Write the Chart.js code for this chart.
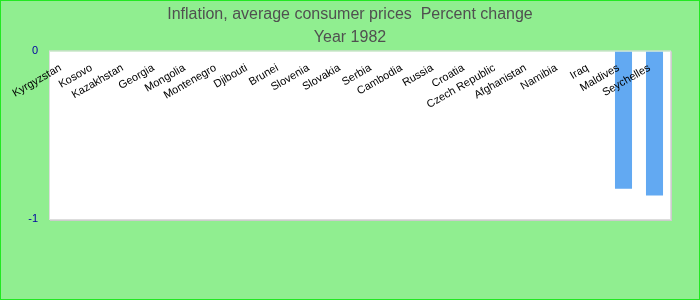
<!DOCTYPE html>
<html>
<head>
<meta charset="utf-8">
<script src="https://cdn.jsdelivr.net/npm/chart.js@4"></script>
<style>
  body { margin: 0; }
  #chart {
    display: block;
    background: #90ee90;
    outline: 1px solid #22e822;
    outline-offset: -1px;
  }
</style>
</head>
<body>
<canvas id="chart" width="700" height="300"></canvas>
<script>
// Chart data
const countries = ['Kyrgyzstan', 'Kosovo', 'Kazakhstan', 'Georgia', 'Mongolia', 'Montenegro',
  'Djibouti', 'Brunei', 'Slovenia', 'Slovakia', 'Serbia', 'Cambodia', 'Russia', 'Croatia',
  'Czech Republic', 'Afghanistan', 'Namibia', 'Iraq', 'Maldives', 'Seychelles'];
const inflation = [null, null, null, null, null, null, null, null, null, null,
  null, null, null, null, null, null, null, null, -0.82, -0.86];
const yTicks = [-1, 0];
const titleText = 'Inflation, average consumer prices  Percent change';
const subtitleText = 'Year 1982';

const fontFamily = "Arial, 'Liberation Sans', sans-serif";

// White plot area with a light grey frame
const plotFrame = {
  id: 'plotFrame',
  beforeDraw(chart) {
    const { ctx, chartArea: a } = chart;
    ctx.save();
    ctx.fillStyle = '#ffffff';
    ctx.fillRect(a.left, a.top, a.right - a.left, a.bottom - a.top);
    ctx.strokeStyle = '#dddddd';
    ctx.lineWidth = 1;
    ctx.strokeRect(a.left - 0.5, a.top - 0.5, a.right - a.left + 1, a.bottom - a.top + 1);
    ctx.strokeStyle = '#cccccc';
    ctx.beginPath();
    ctx.moveTo(a.right + 1.5, a.top);
    ctx.lineTo(a.right + 1.5, a.bottom + 2);
    ctx.moveTo(a.left, a.bottom + 1.5);
    ctx.lineTo(a.right + 2, a.bottom + 1.5);
    ctx.stroke();
    ctx.restore();
  }
};

new Chart(document.getElementById('chart'), {
  type: 'bar',
  data: {
    labels: countries,
    datasets: [{
      data: inflation,
      backgroundColor: '#62a9f2',
      borderWidth: 0,
      barPercentage: 0.55,
      categoryPercentage: 1
    }]
  },
  options: {
    responsive: false,
    animation: false,
    layout: { padding: { left: 0, right: 0, top: 0, bottom: 81 } },
    plugins: {
      legend: { display: false },
      tooltip: { enabled: false },
      title: {
        display: true,
        text: titleText,
        color: '#505050',
        font: { family: fontFamily, size: 16, weight: 'normal', lineHeight: 1.2 },
        padding: { top: 5, bottom: 4 }
      },
      subtitle: {
        display: true,
        text: subtitleText,
        color: '#505050',
        font: { family: fontFamily, size: 16, weight: 'normal', lineHeight: 1.2 },
        padding: { top: 0, bottom: 4 }
      }
    },
    scales: {
      x: {
        position: { y: 0 },
        grid: { display: false, drawTicks: false },
        border: { display: false },
        ticks: {
          z: 1,
          autoSkip: false,
          minRotation: 30,
          maxRotation: 30,
          padding: 10,
          labelOffset: -5,
          color: '#000000',
          font: { family: fontFamily, size: 11 }
        },
        afterFit(scale) { scale.height = 0; }
      },
      y: {
        min: yTicks[0],
        max: yTicks[yTicks.length - 1],
        grid: { display: false, drawTicks: false },
        border: { display: false },
        afterBuildTicks(scale) { scale.ticks = yTicks.map(v => ({ value: v })); },
        ticks: {
          padding: 12,
          color: '#0000a0',
          font: { family: fontFamily, size: 11 }
        },
        afterFit(scale) { scale.width = 50; }
      },
      // empty right-hand strip so the plot stops short of the edge
      yRight: {
        position: 'right',
        grid: { display: false, drawTicks: false },
        border: { display: false },
        ticks: { display: false },
        afterFit(scale) { scale.width = 30; }
      }
    }
  },
  plugins: [plotFrame]
});
</script>
</body>
</html>
